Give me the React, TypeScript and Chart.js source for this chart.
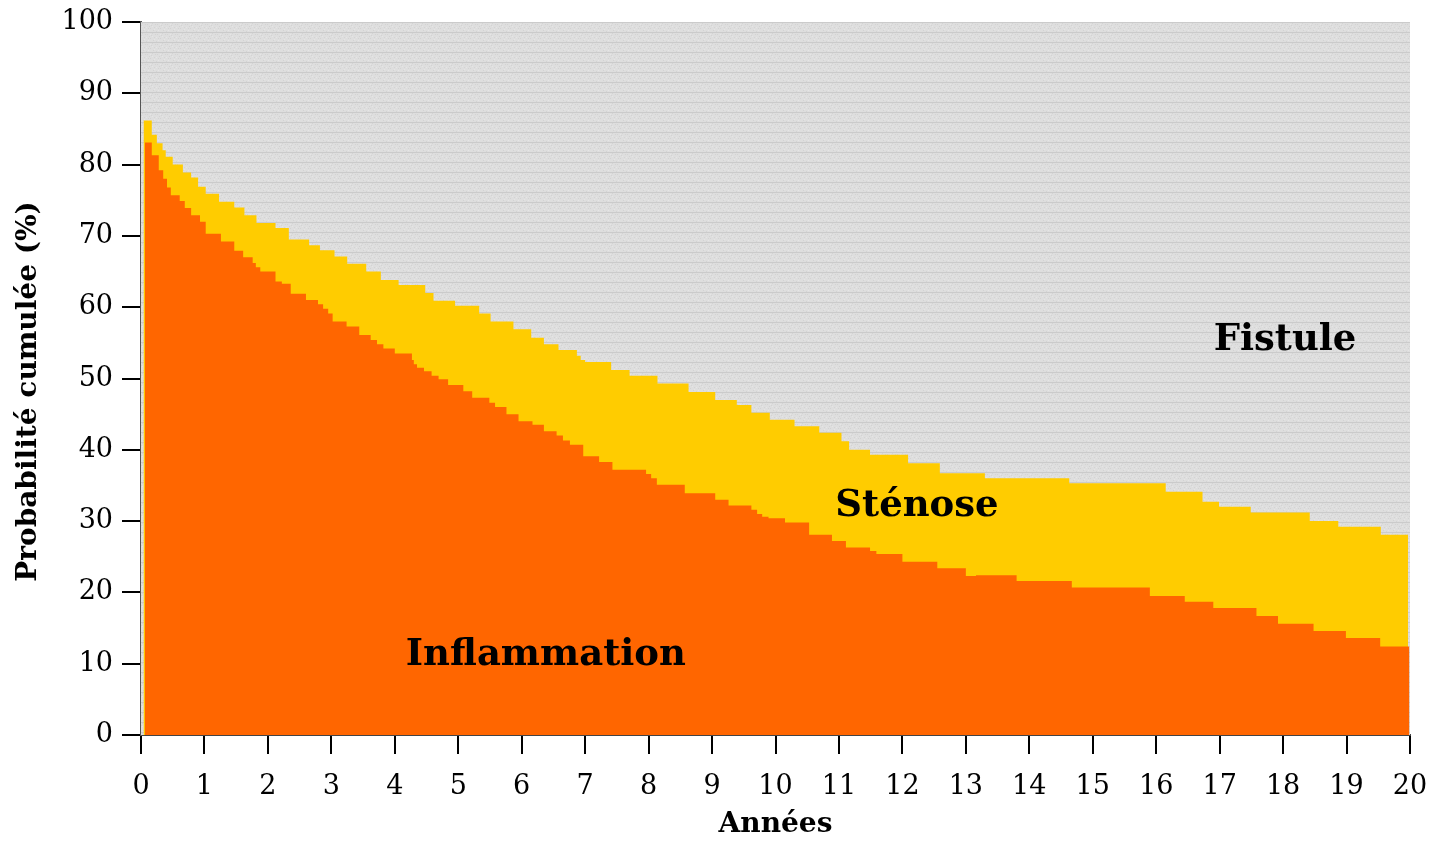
import React, { useEffect, useRef } from "react";
import { Chart, registerables } from "chart.js";

Chart.register(...registerables);

// Inflammation: cumulative probability (step function, value holds from x until next x)
const inflammationX = [0.06, 0.17, 0.28, 0.35, 0.41, 0.47, 0.61, 0.69, 0.79, 0.93, 1.02, 1.26, 1.47, 1.61, 1.76, 1.81, 1.88, 2.12, 2.22, 2.36, 2.6, 2.79, 2.87, 2.95, 3.02, 3.24, 3.44, 3.62, 3.72, 3.82, 4.0, 4.27, 4.3, 4.35, 4.46, 4.58, 4.69, 4.84, 5.08, 5.22, 5.49, 5.58, 5.76, 5.95, 6.17, 6.35, 6.55, 6.65, 6.76, 6.97, 7.22, 7.43, 7.96, 8.04, 8.13, 8.57, 9.05, 9.26, 9.62, 9.71, 9.79, 9.89, 10.15, 10.53, 10.89, 11.11, 11.49, 11.59, 12.0, 12.55, 13.0, 13.16, 13.8, 14.67, 15.9, 16.45, 16.9, 17.58, 17.92, 18.48, 18.99, 19.53, 19.99];
const inflammationY = [83.1, 81.3, 79.2, 78.0, 76.8, 75.7, 74.9, 73.9, 72.9, 72.0, 70.3, 69.2, 67.9, 67.0, 66.2, 65.6, 65.0, 63.6, 63.3, 61.9, 61.0, 60.4, 59.8, 59.1, 58.0, 57.3, 56.1, 55.4, 54.8, 54.2, 53.5, 52.6, 52.0, 51.5, 51.0, 50.4, 49.9, 49.1, 48.2, 47.3, 46.6, 46.0, 45.0, 44.0, 43.5, 42.6, 42.0, 41.3, 40.7, 39.1, 38.3, 37.2, 36.6, 36.0, 35.1, 33.9, 33.0, 32.2, 31.6, 31.0, 30.6, 30.4, 29.8, 28.1, 27.2, 26.3, 25.8, 25.4, 24.3, 23.4, 22.3, 22.4, 21.6, 20.7, 19.5, 18.7, 17.8, 16.7, 15.6, 14.6, 13.6, 12.4, 12.4];

// Inflammation + Sténose (cumulative top of the yellow band)
const stenoseX = [0.04, 0.17, 0.25, 0.34, 0.39, 0.5, 0.66, 0.79, 0.9, 1.02, 1.23, 1.47, 1.63, 1.82, 2.12, 2.33, 2.65, 2.82, 3.05, 3.25, 3.55, 3.78, 4.06, 4.48, 4.61, 4.95, 5.33, 5.51, 5.87, 6.15, 6.35, 6.58, 6.87, 6.93, 7.0, 7.41, 7.7, 8.14, 8.63, 9.05, 9.39, 9.62, 9.91, 10.3, 10.69, 11.04, 11.16, 11.49, 12.09, 12.59, 13.3, 14.63, 16.15, 16.73, 16.99, 17.49, 18.42, 18.87, 19.54, 19.97];
const stenoseY = [86.2, 84.2, 83.0, 82.0, 81.1, 80.0, 78.9, 78.2, 76.9, 75.9, 74.8, 74.0, 72.9, 71.8, 71.1, 69.5, 68.7, 68.0, 67.1, 66.1, 65.0, 63.8, 63.1, 62.0, 60.9, 60.2, 59.1, 58.0, 56.9, 55.7, 54.8, 54.0, 53.2, 52.6, 52.3, 51.2, 50.4, 49.3, 48.1, 47.0, 46.3, 45.2, 44.2, 43.3, 42.4, 41.2, 40.0, 39.3, 38.1, 36.7, 36.0, 35.3, 34.1, 32.7, 32.0, 31.2, 30.0, 29.2, 28.1, 28.1];

// Fistule fills the remainder up to 100 %
const fistuleX = [0, 20];
const fistuleY = [100, 100];

const xTickMin = 0;
const xTickMax = 20;
const yTickMin = 0;
const yTickMax = 100;

const areaLabels = [
  { text: "Fistule", x: 18.03, y: 55.4 },
  { text: "Sténose", x: 12.23, y: 32.1 },
  { text: "Inflammation", x: 6.38, y: 11.2 },
];

const xTitle = "Années";
const yTitle = "Probabilité cumulée (%)";

const FONT = "'DejaVu Serif', serif";

function toPoints(xs: number[], ys: number[]) {
  return xs.map((x, i) => ({ x, y: ys[i] }));
}

function makePattern(): CanvasPattern | string {
  const c = document.createElement("canvas");
  c.width = 10;
  c.height = 10;
  const g = c.getContext("2d");
  if (!g) return "#dcdcdc";
  g.fillStyle = "#dedede";
  g.fillRect(0, 0, 10, 10);
  g.fillStyle = "#d3d3d3";
  const dots = [
    [1, 5], [4, 7], [7, 4], [8, 8], [3, 0], [6, 1], [0, 8], [5, 4], [2, 3], [9, 6],
  ];
  dots.forEach(([x, y]) => g.fillRect(x, y, 1, 1));
  g.fillStyle = "#e6e6e6";
  [[2, 6], [6, 7], [8, 0], [0, 4], [4, 9]].forEach(([x, y]) => g.fillRect(x, y, 1, 1));
  g.fillStyle = "#cbcbcb";
  g.fillRect(0, 2, 10, 1);
  return g.createPattern(c, "repeat") || "#dcdcdc";
}

const labelsPlugin = {
  id: "areaLabels",
  afterDatasetsDraw(chart: any) {
    const { ctx, scales } = chart;
    ctx.save();
    ctx.fillStyle = "#000";
    ctx.font = `bold 37px ${FONT}`;
    ctx.textAlign = "center";
    ctx.textBaseline = "middle";
    areaLabels.forEach((l) => {
      ctx.fillText(l.text, scales.x.getPixelForValue(l.x), scales.y.getPixelForValue(l.y));
    });
    ctx.restore();
  },
  afterDraw(chart: any) {
    const { ctx, chartArea } = chart;
    ctx.save();
    ctx.fillStyle = "#000";
    ctx.font = `bold 28px ${FONT}`;
    ctx.textAlign = "center";
    ctx.textBaseline = "middle";
    ctx.translate(29, (chartArea.top + chartArea.bottom) / 2 + 13);
    ctx.rotate(-Math.PI / 2);
    ctx.fillText(yTitle, 0, 0);
    ctx.restore();
  },
};

export default function App() {
  const canvasRef = useRef<HTMLCanvasElement | null>(null);

  useEffect(() => {
    const canvas = canvasRef.current;
    if (!canvas) return;
    const pattern = makePattern();
    const chart = new Chart(canvas, {
      type: "line",
      data: {
        datasets: [
          {
            label: "Inflammation",
            data: toPoints(inflammationX, inflammationY),
            stepped: "before",
            fill: "origin",
            backgroundColor: "#ff6600",
            borderColor: "#f26000",
            borderWidth: 0,
            pointRadius: 0,
          },
          {
            label: "Sténose",
            data: toPoints(stenoseX, stenoseY),
            stepped: "before",
            fill: "origin",
            backgroundColor: "#ffcc00",
            borderColor: "#ffcc00",
            borderWidth: 0,
            pointRadius: 0,
          },
          {
            label: "Fistule",
            data: toPoints(fistuleX, fistuleY),
            fill: "origin",
            backgroundColor: pattern as any,
            borderWidth: 0,
            pointRadius: 0,
          },
        ],
      },
      options: {
        responsive: false,
        animation: false,
        events: [],
        layout: { padding: { left: 0, top: 22, right: 23, bottom: 0 } },
        plugins: {
          legend: { display: false },
          tooltip: { enabled: false },
        },
        scales: {
          x: {
            type: "linear",
            min: xTickMin,
            max: xTickMax,
            afterFit: (scale: any) => {
              scale.height = 108;
              scale.paddingLeft = 0;
              scale.paddingRight = 0;
            },
            ticks: {
              stepSize: 1,
              autoSkip: false,
              maxRotation: 0,
              padding: 17,
              color: "#000",
              font: { family: FONT, size: 27 },
            },
            grid: {
              drawOnChartArea: false,
              drawTicks: true,
              tickLength: 19,
              color: "#000",
              lineWidth: 2,
            },
            border: { display: true, color: "#444", width: 2 },
            title: {
              display: true,
              text: xTitle,
              color: "#000",
              font: { family: FONT, size: 28, weight: "bold" },
              padding: { top: 0, bottom: 1 },
            },
          },
          y: {
            type: "linear",
            min: yTickMin,
            max: yTickMax,
            afterFit: (scale: any) => {
              scale.width = 141;
              scale.paddingTop = 0;
              scale.paddingBottom = 0;
            },
            ticks: {
              stepSize: 10,
              autoSkip: false,
              padding: 9,
              color: "#000",
              font: { family: FONT, size: 27 },
            },
            grid: {
              drawOnChartArea: false,
              drawTicks: true,
              tickLength: 19,
              color: "#000",
              lineWidth: 2,
            },
            border: { display: true, color: "#555", width: 2 },
          },
        },
      },
      plugins: [labelsPlugin],
    });
    return () => chart.destroy();
  }, []);

  return (
    <div style={{ position: "absolute", left: 0, top: 0, width: 1433, height: 843, background: "#fff" }}>
      <canvas ref={canvasRef} width={1433} height={843} style={{ display: "block" }} />
    </div>
  );
}
